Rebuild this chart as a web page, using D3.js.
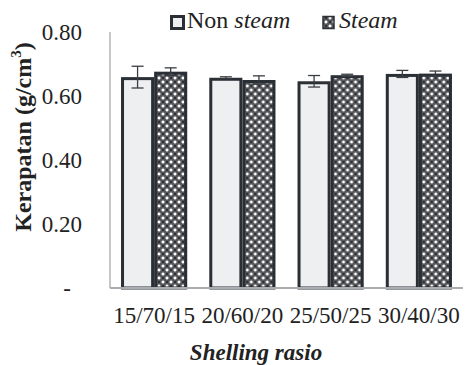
<!DOCTYPE html>
<html>
<head>
<meta charset="utf-8">
<script src="https://cdn.jsdelivr.net/npm/d3@7"></script>
<style>
  body { margin: 0; background: #fff; }
</style>
</head>
<body>
<div id="chart"></div>
<script>
const categories = ["15/70/15", "20/60/20", "25/50/25", "30/40/30"];
const series = ["Non steam", "Steam"];
const nonSteam = [0.659, 0.657, 0.646, 0.669];
const nonSteamErr = [0.034, 0.003, 0.018, 0.011];
const steam = [0.676, 0.650, 0.665, 0.670];
const steamErr = [0.012, 0.013, 0.003, 0.008];
const yTicks = [0, 0.2, 0.4, 0.6, 0.8];

const width = 469;
const height = 365;
const margin = { top: 32, right: 6, bottom: 77, left: 110 };
const serif = "Liberation Serif, DejaVu Serif, serif";

const svg = d3
  .select("#chart")
  .append("svg")
  .attr("width", width)
  .attr("height", height)
  .style("font-family", serif);

// dotted pattern for the steam bars
const defs = svg.append("defs");
const pat = defs
  .append("pattern")
  .attr("id", "steamPat")
  .attr("patternUnits", "userSpaceOnUse")
  .attr("width", 8)
  .attr("height", 8);
pat.append("rect").attr("width", 8).attr("height", 8).attr("fill", "#55575b");
[[0, 0], [4, 4]].forEach(([cx, cy]) => {
  pat.append("rect").attr("x", cx + 1.5).attr("y", cy).attr("width", 1).attr("height", 4).attr("fill", "#cfd0d2");
  pat.append("rect").attr("x", cx).attr("y", cy + 1.5).attr("width", 4).attr("height", 1).attr("fill", "#cfd0d2");
  pat.append("rect").attr("x", cx + 1).attr("y", cy + 1).attr("width", 2).attr("height", 2).attr("fill", "#fff");
});
[[2, 6], [6, 2]].forEach(([cx, cy]) => {
  pat.append("rect").attr("x", cx - 1).attr("y", cy - 1).attr("width", 2).attr("height", 2).attr("fill", "#2f3033");
});

const x = d3
  .scaleBand()
  .domain(categories)
  .range([margin.left, width - margin.right])
  .paddingInner(0.25)
  .paddingOuter(0.125);

const xs = d3.scaleBand().domain(series).range([0, x.bandwidth()]);

const y = d3
  .scaleLinear()
  .domain([0, 0.8])
  .range([height - margin.bottom, margin.top]);

// y axis line
svg
  .append("line")
  .attr("x1", margin.left)
  .attr("x2", margin.left)
  .attr("y1", y(0.8))
  .attr("y2", y(0))
  .attr("stroke", "#b4b4b4")
  .attr("stroke-width", 1.5);

// y tick labels
svg
  .selectAll(".ytick")
  .data(yTicks)
  .enter()
  .append("text")
  .attr("class", "ytick")
  .attr("x", (d) => (d === 0 ? 67 : 82))
  .attr("y", (d) => y(d))
  .attr("dy", "0.33em")
  .attr("text-anchor", (d) => (d === 0 ? "middle" : "end"))
  .attr("font-size", 23)
  .attr("fill", "#222")
  .text((d) => (d === 0 ? "-" : d3.format(".2f")(d)));

const rows = categories.map((c, i) => [
  { cat: c, s: "Non steam", v: nonSteam[i], e: nonSteamErr[i] },
  { cat: c, s: "Steam", v: steam[i], e: steamErr[i] },
]);

const group = svg
  .selectAll(".grp")
  .data(rows)
  .enter()
  .append("g")
  .attr("transform", (d) => `translate(${x(d[0].cat)},0)`);

group
  .selectAll("rect")
  .data((d) => d)
  .enter()
  .append("rect")
  .attr("x", (d) => xs(d.s) + 1.5)
  .attr("y", (d) => y(d.v) + 1.5)
  .attr("width", xs.bandwidth() - 3)
  .attr("height", (d) => y(0) - y(d.v) - 1.5)
  .attr("fill", (d) => (d.s === "Steam" ? "url(#steamPat)" : "#eeeff1"))
  .attr("stroke", "#2a2f35")
  .attr("stroke-width", 3);

// error bars
const err = group
  .selectAll(".err")
  .data((d) => d)
  .enter()
  .append("g")
  .attr("transform", (d) => `translate(${xs(d.s) + xs.bandwidth() / 2},0)`);

err
  .append("line")
  .attr("y1", (d) => y(d.v + d.e))
  .attr("y2", (d) => y(d.v - d.e))
  .attr("stroke", "#3a3d42")
  .attr("stroke-width", 1.3);

err
  .selectAll(".cap")
  .data((d) => [d.v + d.e, d.v - d.e])
  .enter()
  .append("line")
  .attr("x1", -6)
  .attr("x2", 6)
  .attr("y1", (d) => y(d))
  .attr("y2", (d) => y(d))
  .attr("stroke", "#3a3d42")
  .attr("stroke-width", 1.3);

// baseline
svg
  .append("line")
  .attr("x1", margin.left)
  .attr("x2", width - margin.right)
  .attr("y1", y(0))
  .attr("y2", y(0))
  .attr("stroke", "#a9adb0")
  .attr("stroke-width", 2);

// x labels
svg
  .selectAll(".xlab")
  .data(categories)
  .enter()
  .append("text")
  .attr("x", (d) => x(d) + x.bandwidth() / 2)
  .attr("y", 323)
  .attr("text-anchor", "middle")
  .attr("font-size", 23)
  .attr("fill", "#222")
  .text((d) => d);

// axis titles
svg
  .append("text")
  .attr("x", 256)
  .attr("y", 360)
  .attr("text-anchor", "middle")
  .attr("font-size", 23)
  .attr("font-weight", "bold")
  .attr("font-style", "italic")
  .attr("fill", "#222")
  .text("Shelling rasio");

const yt = svg
  .append("text")
  .attr("transform", "translate(31,137) rotate(-90)")
  .attr("text-anchor", "middle")
  .attr("font-size", 24)
  .attr("font-weight", "bold")
  .attr("fill", "#222");
yt.append("tspan").text("Kerapatan (g/cm");
yt.append("tspan").attr("dy", -10).attr("font-size", 15).text("3");
yt.append("tspan").attr("dy", 10).text(")");

// legend
const leg = svg.append("g");
leg
  .append("rect")
  .attr("x", 171.5)
  .attr("y", 16.5)
  .attr("width", 12)
  .attr("height", 12)
  .attr("fill", "#eeeff1")
  .attr("stroke", "#2a2f35")
  .attr("stroke-width", 3);
const t1 = leg
  .append("text")
  .attr("x", 187)
  .attr("y", 28)
  .attr("font-size", 24)
  .attr("fill", "#222");
t1.append("tspan").text("Non ");
t1.append("tspan").attr("font-style", "italic").text("steam");

leg
  .append("rect")
  .attr("x", 323)
  .attr("y", 16.5)
  .attr("width", 11)
  .attr("height", 12)
  .attr("fill", "url(#steamPat)")
  .attr("stroke", "#2a2f35")
  .attr("stroke-width", 1.5);
leg
  .append("text")
  .attr("x", 339)
  .attr("y", 28)
  .attr("font-size", 24)
  .attr("font-style", "italic")
  .attr("fill", "#222")
  .text("Steam");
</script>
</body>
</html>
